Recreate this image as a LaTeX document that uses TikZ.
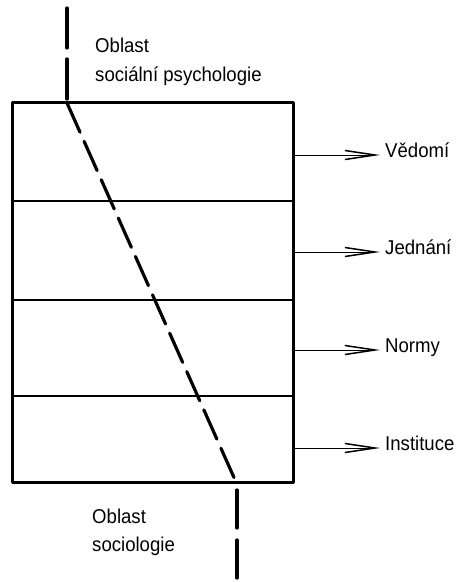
\documentclass[tikz,border=0pt]{standalone}
\usepackage{fontspec}
\setmainfont{Liberation Sans}[FakeStretch=0.93]
\usetikzlibrary{arrows.meta}
\begin{document}
\begin{tikzpicture}[x=1pt,y=-1pt,
  frame/.style={line width=3pt, line join=round},
  layer/.style={line width=1.4pt},
  border/.style={line width=3.2pt, dash pattern=on 40pt off 11pt, line cap=round},
  outarrow/.style={line width=1pt, -{Straight Barb[length=30pt,width=9pt,line width=1.5pt]}},
  lbl/.style={font=\fontsize{20}{24}\selectfont, anchor=mid west, inner sep=0pt},
  area/.style={font=\fontsize{20}{24}\selectfont, anchor=base west, inner sep=0pt}]
\useasboundingbox (0,0) rectangle (475,583);
% box
\coordinate (tl) at (12,103);
\coordinate (tr) at (293,103);
\coordinate (bl) at (12,482);
\coordinate (br) at (293,482);
\draw[frame] (tl) rectangle (br);
% layers
\coordinate (l1a) at (12,201); \coordinate (l1b) at (293,201);
\coordinate (l2a) at (12,300); \coordinate (l2b) at (293,300);
\coordinate (l3a) at (12,396); \coordinate (l3b) at (293,396);
\draw[layer] (l1a) -- (l1b);
\draw[layer] (l2a) -- (l2b);
\draw[layer] (l3a) -- (l3b);
% boundary
\coordinate (top) at (67,8);
\coordinate (in) at (67,103);
\coordinate (out) at (236,482);
\coordinate (bstart) at (237,490);
\coordinate (bot) at (237,580);
\draw[border] (top) -- (in);
\draw[border, dash pattern=on 32pt off 10pt] (in) -- (out);
\draw[border, dash pattern=on 38pt off 12pt] (bstart) -- (bot);
% area labels
\node[area] (sp1) at (95,53) {Oblast};
\node[area] (sp2) at (95,82) {sociální psychologie};
\node[area] (so1) at (92,523) {Oblast};
\node[area] (so2) at (92,551) {sociologie};
% arrows
\node[lbl] (v) at (385,155) {Vědomí};
\node[lbl] (j) at (385,252) {Jednání};
\node[lbl] (n) at (385,350) {Normy};
\node[lbl] (i) at (385,448) {Instituce};
\coordinate (a1) at (293,155);
\coordinate (a2) at (293,252);
\coordinate (a3) at (293,350);
\coordinate (a4) at (293,448);
\draw[outarrow] (a1) -- ([xshift=-5pt]a1 -| v.west);
\draw[outarrow] (a2) -- ([xshift=-5pt]a2 -| j.west);
\draw[outarrow] (a3) -- ([xshift=-5pt]a3 -| n.west);
\draw[outarrow] (a4) -- ([xshift=-5pt]a4 -| i.west);
\end{tikzpicture}
\end{document}
